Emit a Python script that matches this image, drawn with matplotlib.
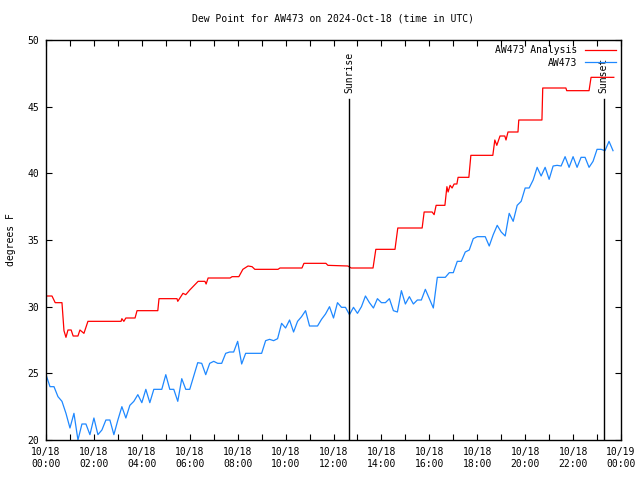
import matplotlib
matplotlib.use("Agg")
import matplotlib.pyplot as plt
from matplotlib.ticker import MultipleLocator

# Analysis series: minutes after 00:00 UTC and dew point (F)
red_min = [0, 15, 23, 40, 45, 50, 55, 63, 68, 80, 85, 95, 105, 188, 190, 195, 200,
           223, 228, 280, 283, 328, 330, 343, 350, 360, 381, 398, 401, 406, 461,
           466, 483, 493, 506, 516, 523, 581, 586, 641, 646, 701, 706, 756, 764,
           819, 826, 874, 881, 942, 947, 967, 972, 977, 999, 1004, 1007, 1012,
           1017, 1022, 1029, 1032, 1059, 1064, 1119, 1124, 1129, 1137, 1149,
           1152, 1157, 1182, 1184, 1242, 1244, 1302, 1304, 1360, 1365, 1422]
red_val = [30.8, 30.8, 30.3, 30.3, 28.2, 27.7, 28.25, 28.25, 27.8, 27.8, 28.25, 28.0,
           28.9, 28.9, 29.1, 28.9, 29.15, 29.15, 29.7, 29.7, 30.6, 30.6, 30.4, 31.0,
           30.9, 31.25, 31.9, 31.9, 31.7, 32.15, 32.15, 32.25, 32.25, 32.8, 33.05,
           33.0, 32.8, 32.8, 32.9, 32.9, 33.25, 33.25, 33.1, 33.05, 32.9, 32.9,
           34.3, 34.3, 35.9, 35.9, 37.1, 37.1, 36.9, 37.6, 37.6, 39.0, 38.6, 39.1,
           38.9, 39.2, 39.2, 39.7, 39.7, 41.35, 41.35, 42.5, 42.1, 42.8, 42.8,
           42.5, 43.1, 43.1, 44.0, 44.0, 46.4, 46.4, 46.2, 46.2, 47.2, 47.2]

# Station observations, every 10 minutes from 00:00 to 23:40 UTC
obs_step_min = 10
obs_val = [24.9, 24.0, 24.0, 23.25, 22.9, 22.0, 20.9, 22.0, 20.0, 21.2,
           21.2, 20.4, 21.65, 20.4, 20.75, 21.5, 21.5, 20.4, 21.5, 22.5,
           21.65, 22.6, 22.9, 23.4, 22.8, 23.8, 22.8, 23.8, 23.8, 23.8,
           24.9, 23.8, 23.8, 22.9, 24.6, 23.8, 23.8, 24.8, 25.8, 25.75,
           24.9, 25.75, 25.9, 25.75, 25.75, 26.5, 26.6, 26.6, 27.4, 25.7,
           26.5, 26.5, 26.5, 26.5, 26.5, 27.45, 27.55, 27.45, 27.6, 28.75,
           28.4, 29.0, 28.1, 28.9, 29.25, 29.7, 28.55, 28.55, 28.55, 29.05,
           29.45, 30.0, 29.15, 30.3, 29.95, 29.95, 29.4, 29.95, 29.5, 30.0,
           30.8, 30.3, 29.9, 30.6, 30.3, 30.3, 30.6, 29.7, 29.6, 31.2,
           30.2, 30.75, 30.2, 30.5, 30.5, 31.3, 30.6, 29.9, 32.2, 32.2,
           32.2, 32.55, 32.55, 33.4, 33.4, 34.1, 34.25, 35.1, 35.25, 35.25,
           35.25, 34.55, 35.4, 36.1, 35.6, 35.3, 37.0, 36.4, 37.6, 37.9,
           38.9, 38.9, 39.5, 40.45, 39.8, 40.45, 39.55, 40.55, 40.6, 40.55,
           41.25, 40.45, 41.25, 40.45, 41.2, 41.2, 40.45, 40.9, 41.8, 41.8,
           41.7, 42.4, 41.7]

sunrise_min = 12 * 60 + 39
sunset_min = 23 * 60 + 17

tick_hours = list(range(0, 25, 2))
tick_labels = ["10/18\n%02d:00" % h for h in tick_hours[:-1]] + ["10/19\n00:00"]

red_h = [m / 60 for m in red_min]
obs_h = [i * obs_step_min / 60 for i in range(len(obs_val))]

plt.rcParams["font.family"] = ["DejaVu Sans Mono"]
plt.rcParams["font.size"] = 7

fig = plt.figure(figsize=(6.4, 4.8), dpi=100)
ax = fig.add_axes([46 / 640, 40 / 480, 575 / 640, 400 / 480])

ax.plot(red_h, red_val, color="red", lw=0.9, label="AW473 Analysis")
ax.plot(obs_h, obs_val, color="#1e88ff", lw=0.9, label="AW473")

# sunrise / sunset markers
for m, name in [(sunrise_min, "Sunrise"), (sunset_min, "Sunset")]:
    ax.plot([m / 60, m / 60], [20, 45.6], color="black", lw=1.0)
    ax.text(m / 60, 46.0, name, rotation=90, ha="center", va="bottom")

ax.set_xlim(0, 24)
ax.set_ylim(20, 50)
ax.set_xticks(tick_hours)
ax.set_xticklabels(tick_labels)
ax.xaxis.set_minor_locator(MultipleLocator(1))
ax.yaxis.set_major_locator(MultipleLocator(5))
ax.tick_params(which="both", direction="in", top=True, right=True,
               length=4, width=0.8, pad=5)
for s in ax.spines.values():
    s.set_linewidth(1.0)

ax.set_title("Dew Point for AW473 on 2024-Oct-18 (time in UTC)", fontsize=7, pad=13)
ax.set_ylabel("degrees F", labelpad=8)

leg = ax.legend(loc="upper right", frameon=False, markerfirst=False,
                handlelength=3.2, borderaxespad=0.15, labelspacing=0.25,
                handletextpad=0.8)
leg._legend_box.align = "right"

fig.savefig("out.png", dpi=100)
